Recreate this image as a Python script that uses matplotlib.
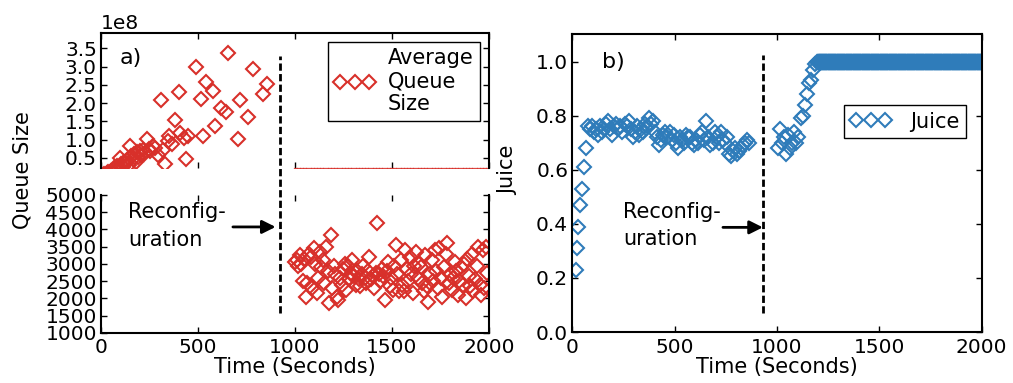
import numpy as np
import matplotlib
matplotlib.use("Agg")
import matplotlib.pyplot as plt
from matplotlib.ticker import MultipleLocator

# ---- data ----
reconfig_time = 925

# queue size before reconfiguration (values in units of 1e8)
queue_pre_t = [0, 8, 15, 22, 30, 38, 45, 52, 60, 68, 75, 82, 90, 98, 105, 112,
               120, 128, 135, 142, 149, 156, 163, 170, 178, 185, 192, 200, 207,
               215, 222, 235, 245, 255, 266, 280, 295, 309, 321, 330, 345, 352,
               365, 381, 402, 407, 430, 438, 447, 488, 514, 527, 541, 579, 588,
               617, 644, 656, 705, 716, 756, 785, 837, 854]
queue_pre_e8 = [0.00, 0.02, 0.05, 0.03, 0.08, 0.12, 0.06, 0.15, 0.10, 0.22,
                0.18, 0.28, 0.20, 0.50, 0.32, 0.25, 0.40, 0.35, 0.45, 0.30,
                0.83, 0.55, 0.48, 0.60, 0.38, 0.65, 0.52, 0.70, 0.58, 0.72,
                0.62, 1.01, 0.75, 0.68, 0.83, 0.78, 0.59, 2.08, 0.72, 0.32,
                0.95, 1.10, 0.88, 1.54, 2.31, 1.18, 1.05, 0.47, 1.10, 2.98,
                2.10, 1.09, 2.58, 2.33, 1.38, 1.86, 1.76, 3.36, 1.01, 2.08,
                1.63, 2.94, 2.26, 2.51]

# queue size after reconfiguration, one sample every 8 s from t=1000
queue_post_start, queue_post_step = 1000, 8
queue_post = [3050, 3100, 2950, 3250, 3000, 2500, 3150, 2050, 2450, 3300,
              3200, 2300, 3450, 3000, 2150, 2600, 3350, 2900, 3100, 2450,
              3500, 2800, 1860, 3850, 2300, 2950, 2700, 2050, 1950, 2600,
              2400, 2850, 3000, 2250, 2950, 2550, 2700, 3100, 2650, 2400,
              2800, 2550, 2350, 2700, 2950, 2600, 2450, 2800, 3200, 2550,
              2650, 2300, 2750, 4180, 2700, 2500, 2850, 2650, 1957, 2800,
              3050, 2350, 2600, 2250, 2950, 3550, 2700, 2200, 3100, 2400,
              2200, 3400, 2850, 2500, 3200, 2700, 2150, 2950, 3350, 2600,
              3000, 2900, 2450, 2200, 3250, 2350, 1900, 2700, 3100, 2500,
              3400, 2800, 2300, 3450, 2600, 2050, 2900, 3300, 3600, 2450,
              2700, 2250, 2600, 3050, 2800, 2100, 2500, 2900, 2400, 3000,
              2000, 3150, 2650, 2350, 3300, 2200, 2550, 2950, 3500, 2400,
              2100, 3400, 2300, 3500, 2750]

# juice: start-up ramp
juice_ramp_t = [18, 23, 28, 38, 48, 57, 67]
juice_ramp = [0.23, 0.31, 0.39, 0.47, 0.53, 0.61, 0.68]
# juice plateau before reconfiguration, every 10 s from t=75
juice_pre_start, juice_pre_step = 75, 10
juice_pre = [0.76, 0.75, 0.76, 0.74, 0.75, 0.73, 0.76, 0.74, 0.75, 0.77,
             0.78, 0.75, 0.73, 0.76, 0.77, 0.75, 0.76, 0.74, 0.77, 0.76,
             0.78, 0.75, 0.72, 0.74, 0.76, 0.73, 0.75, 0.74, 0.77, 0.76,
             0.79, 0.77, 0.78, 0.74, 0.72, 0.69, 0.71, 0.73, 0.74, 0.72,
             0.74, 0.71, 0.73, 0.70, 0.68, 0.72, 0.71, 0.70, 0.73, 0.72,
             0.72, 0.70, 0.69, 0.71, 0.70, 0.73, 0.74, 0.71, 0.78, 0.72,
             0.69, 0.70, 0.74, 0.72, 0.70, 0.74, 0.71, 0.70, 0.72, 0.66,
             0.65, 0.67, 0.68, 0.66, 0.67, 0.68, 0.69, 0.70, 0.71, 0.70]
# juice after reconfiguration, every 10 s from t=1005
juice_post_start, juice_post_step = 1005, 10
juice_post = [0.68, 0.75, 0.70, 0.72, 0.66, 0.73, 0.68, 0.70, 0.74, 0.70,
              0.72, 0.79, 0.80, 0.84, 0.88, 0.92, 0.93, 0.97, 0.99, 1.00]
# saturated at 1.0 from t=1200 on, sampled every 2 s
juice_sat_start, juice_sat_end, juice_sat_step = 1200, 2000, 2
juice_sat_value = 1.0

# ---- derived arrays ----
q_pre_t = np.array(queue_pre_t)
q_pre = np.array(queue_pre_e8) * 1e8
q_post = np.array(queue_post)
q_post_t = queue_post_start + queue_post_step * np.arange(len(q_post))

j_pre_t = juice_pre_start + juice_pre_step * np.arange(len(juice_pre))
j_post_t = juice_post_start + juice_post_step * np.arange(len(juice_post))
j_sat_t = np.arange(juice_sat_start, juice_sat_end + 1, juice_sat_step)
j_t = np.concatenate([juice_ramp_t, j_pre_t, j_post_t, j_sat_t])
j_v = np.concatenate([juice_ramp, juice_pre, juice_post,
                      np.full(len(j_sat_t), juice_sat_value)])

red = '#d8302a'
blue = '#2f7cba'
fs = 15
tick_fs = 14.5

plt.rcParams.update({
    'font.family': 'DejaVu Sans',
    'font.size': fs,
    'xtick.labelsize': tick_fs, 'ytick.labelsize': tick_fs,
    'xtick.direction': 'in', 'ytick.direction': 'in',
    'xtick.top': True, 'ytick.right': True,
    'xtick.major.size': 4.5, 'ytick.major.size': 4.5,
    'xtick.major.width': 1.0, 'ytick.major.width': 1.0,
    'xtick.major.pad': 4, 'ytick.major.pad': 3,
    'axes.linewidth': 1.5,
    'legend.fancybox': False, 'legend.edgecolor': 'black',
    'legend.framealpha': 1.0, 'legend.handlelength': 2.0,
})

fig = plt.figure(figsize=(10.13, 3.83), dpi=100)
ax_top = fig.add_axes([0.0997, 0.561, 0.383, 0.353])
ax_bot = fig.add_axes([0.0997, 0.131, 0.383, 0.360])
ax_j = fig.add_axes([0.565, 0.133, 0.404, 0.777])

mk = dict(marker='D', ms=7.5, mfc='none', mew=1.5, ls='none')
dash = dict(color='black', lw=2, ls=(0, (2.6, 1.2)))

# ---- left panel: broken y-axis ----
for ax in (ax_top, ax_bot):
    ax.plot(q_pre_t, q_pre, mec=red, label='Average\nQueue\nSize', **mk)
    ax.plot(q_post_t, q_post, mec=red, **mk)
    ax.set_xlim(0, 2000)
    ax.xaxis.set_major_locator(MultipleLocator(500))

ax_top.set_ylim(0.22e8, 3.92e8)
ax_top.yaxis.set_major_locator(MultipleLocator(0.5e8))
ax_top.yaxis.get_offset_text().set_fontsize(tick_fs)
ax_top.spines['bottom'].set_visible(False)
ax_top.tick_params(labelbottom=False)

ax_bot.set_ylim(1000, 5000)
ax_bot.yaxis.set_major_locator(MultipleLocator(500))
ax_bot.spines['top'].set_visible(False)
ax_bot.set_xlabel('Time (Seconds)', labelpad=0)

ax_top.legend(loc='upper right', bbox_to_anchor=(0.977, 0.935), borderaxespad=0,
              numpoints=3, fontsize=fs, handletextpad=0.6, borderpad=0.3,
              labelspacing=0.3)
ax_top.text(0.048, 0.815, 'a)', transform=ax_top.transAxes, va='center', fontsize=fs + 1)

ax_bot.axvline(reconfig_time, ymin=0.145, ymax=2.01, clip_on=False, **dash)
ax_bot.text(139, 4100, 'Reconfig-\nuration', va='center', ha='left',
            fontsize=fs, linespacing=1.45)
ax_bot.annotate('', xy=(reconfig_time - 25, 4072), xytext=(680, 4072),
                arrowprops=dict(arrowstyle='-|>', color='black', lw=2,
                                mutation_scale=20, shrinkA=0, shrinkB=0))

fig.text(0.022, 0.555, 'Queue Size', rotation=90, va='center', ha='center', fontsize=fs)

# ---- right panel: juice ----
ax_j.plot(j_t, j_v, mec=blue, label='Juice', **mk)
ax_j.set_xlim(0, 2000)
ax_j.set_ylim(0, 1.1)
ax_j.xaxis.set_major_locator(MultipleLocator(500))
ax_j.yaxis.set_major_locator(MultipleLocator(0.2))
ax_j.set_xlabel('Time (Seconds)', labelpad=0)
ax_j.set_ylabel('Juice')
ax_j.yaxis.set_label_coords(-0.133, 0.545)
ax_j.legend(loc='upper right', bbox_to_anchor=(0.962, 0.762), borderaxespad=0,
            numpoints=3, fontsize=fs, handletextpad=0.9, borderpad=0.3)
ax_j.text(0.072, 0.908, 'b)', transform=ax_j.transAxes, va='center', fontsize=fs + 1)

ax_j.axvline(reconfig_time + 6, ymin=0.064, ymax=0.93, **dash)
ax_j.text(248, 0.393, 'Reconfig-\nuration', va='center', ha='left',
          fontsize=fs, linespacing=1.45)
ax_j.annotate('', xy=(reconfig_time + 6, 0.387), xytext=(736, 0.387),
              arrowprops=dict(arrowstyle='-|>', color='black', lw=2,
                              mutation_scale=20, shrinkA=0, shrinkB=0))

fig.savefig('out.png', dpi=100)
